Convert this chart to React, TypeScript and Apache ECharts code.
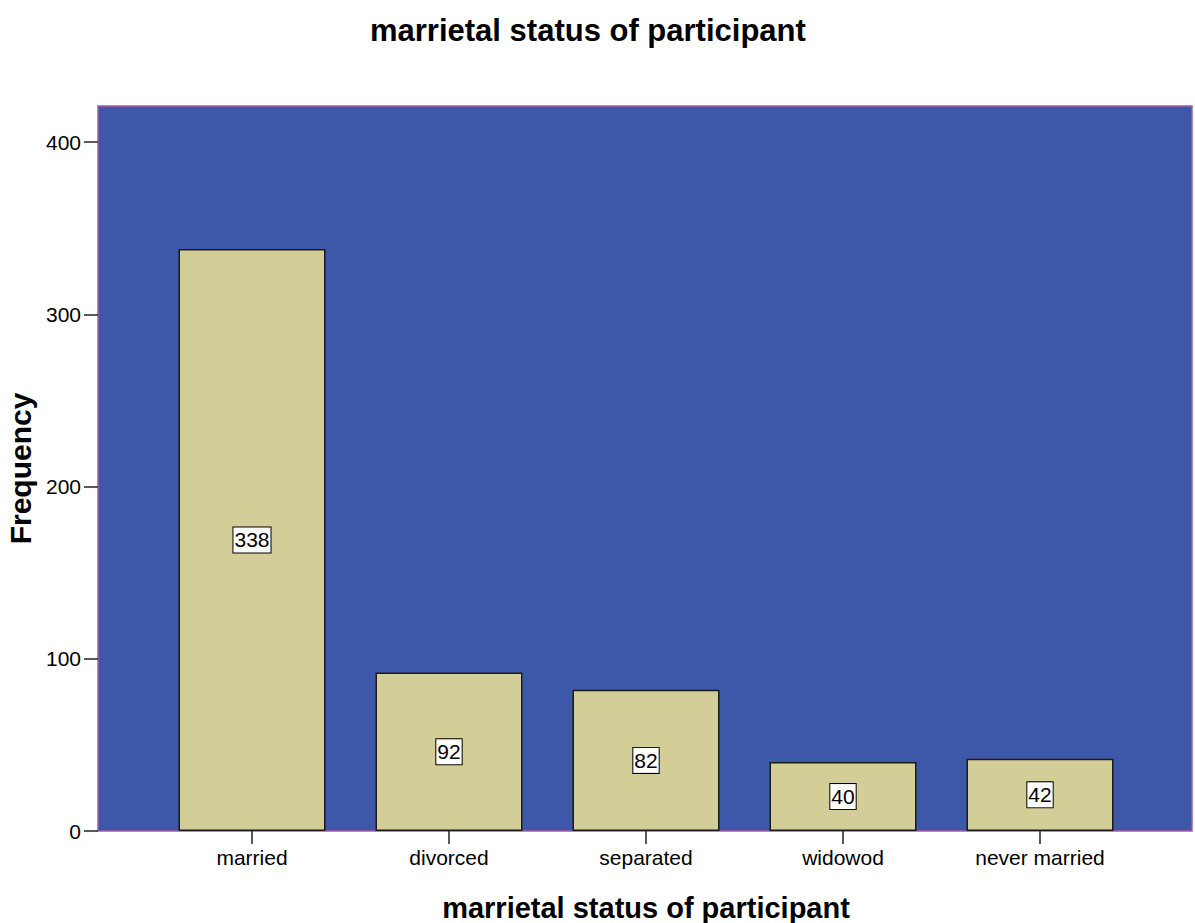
import React, { useEffect, useRef } from "react";
import * as echarts from "echarts";

const categories = ["married", "divorced", "separated", "widowod", "never married"];
const frequencies = [338, 92, 82, 40, 42];
const yMax = 421;

const FONT = "'Liberation Sans', Arial, sans-serif";

export default function App() {
  const ref = useRef<HTMLDivElement>(null);
  useEffect(() => {
    if (!ref.current) return;
    const chart = echarts.init(ref.current, undefined, { renderer: "svg" });
    chart.setOption({
      animation: false,
      backgroundColor: "#ffffff",
      title: {
        text: "marrietal status of participant",
        left: 365,
        top: 10,
        textStyle: { fontFamily: FONT, fontSize: 31, fontWeight: "bold", color: "#000" },
      },
      grid: [
        {
          left: 98,
          right: 3,
          top: 106,
          bottom: 92,
          show: true,
          backgroundColor: "#3E58A9",
          borderColor: "#A45EA0",
          borderWidth: 1.5,
          containLabel: false,
          outerBoundsMode: "none",
        },
        {
          left: 153.5,
          width: 985,
          top: 106,
          bottom: 92,
          containLabel: false,
          outerBoundsMode: "none",
        },
      ],
      xAxis: [
        { type: "value", gridIndex: 0, show: false, min: 0, max: 1 },
        {
          type: "category",
          gridIndex: 1,
          data: categories,
          axisLine: { show: false },
          axisTick: { show: true, alignWithLabel: true, length: 13, lineStyle: { color: "#222", width: 1.5 } },
          axisLabel: { color: "#000", fontFamily: FONT, fontSize: 21, margin: 16 },
          name: "marrietal status of participant",
          nameLocation: "middle",
          nameGap: 62,
          nameTextStyle: { fontFamily: FONT, fontSize: 29, fontWeight: "bold", color: "#000" },
        },
      ],
      yAxis: [
        {
          type: "value",
          gridIndex: 0,
          min: 0,
          max: yMax,
          interval: 100,
          axisLine: { show: false },
          axisTick: { show: true, length: 14, lineStyle: { color: "#222", width: 1.5 } },
          axisLabel: { color: "#000", fontFamily: FONT, fontSize: 21, margin: 17, showMaxLabel: false },
          splitLine: { show: false },
          name: "Frequency",
          nameLocation: "middle",
          nameGap: 61,
          nameTextStyle: { fontFamily: FONT, fontSize: 30, fontWeight: "bold", color: "#000" },
        },
        { type: "value", gridIndex: 1, min: 0, max: yMax, show: false },
      ],
      series: [
        {
          type: "bar",
          xAxisIndex: 1,
          yAxisIndex: 1,
          data: frequencies,
          barWidth: 147,
          itemStyle: { color: "#D3CE98", borderColor: "#1a1a1a", borderWidth: 1.5 },
          label: {
            show: true,
            position: "inside",
            color: "#000",
            fontFamily: FONT,
            fontSize: 21,
            lineHeight: 23,
            backgroundColor: "#fff",
            borderColor: "#000",
            borderWidth: 1,
            padding: [1, 1, 1, 1],
          },
        },
      ],
    });
    return () => chart.dispose();
  }, []);
  return (
    <div
      ref={ref}
      style={{ position: "absolute", left: 0, top: 0, width: 1195, height: 923 }}
    />
  );
}
